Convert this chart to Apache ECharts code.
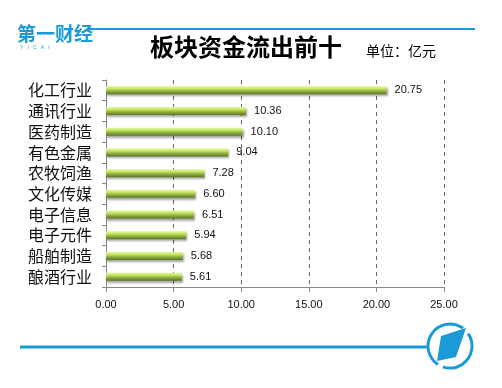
<!DOCTYPE html>
<html><head><meta charset="utf-8">
<script src="https://cdn.jsdelivr.net/npm/echarts@6/dist/echarts.min.js"></script>
<style>html,body{margin:0;padding:0;background:#fff}#c{width:502px;height:388px}</style>
</head><body><div id="c"></div>
<script>
const categories = ['化工行业','通讯行业','医药制造','有色金属','农牧饲渔','文化传媒','电子信息','电子元件','船舶制造','酿酒行业'];
const values = [20.75,10.36,10.10,9.04,7.28,6.60,6.51,5.94,5.68,5.61];
const xTicks = [0,5,10,15,20,25];
const titleText = '板块资金流出前十';
const unitText = '单位：亿元';

const chart = echarts.init(document.getElementById('c'));
const cjk = '"Noto Sans CJK SC", "Noto Sans", sans-serif';
chart.setOption({
  animation: false,
  grid: {left: 106, right: 58, top: 80, bottom: 101, containLabel: false},
  xAxis: {
    type: 'value', min: xTicks[0], max: xTicks[xTicks.length-1], interval: xTicks[1]-xTicks[0],
    axisLine: {show: true, lineStyle: {color: '#888', width: 1}},
    axisTick: {show: true, length: 5, lineStyle: {color: '#888'}},
    axisLabel: {margin: 12, fontSize: 11, color: '#111', fontFamily: 'Arial, "Liberation Sans", sans-serif', formatter: v => v.toFixed(2)},
    splitLine: {show: true, lineStyle: {color: '#666', type: [4,4], width: 1}}
  },
  yAxis: {
    type: 'category', data: categories, inverse: true,
    axisLine: {show: true, lineStyle: {color: '#888'}},
    axisTick: {show: true, length: 4, lineStyle: {color: '#888'}},
    axisLabel: {interval: 0, hideOverlap: false, margin: 14, fontSize: 16, lineHeight: 18, color: '#111', fontFamily: cjk}
  },
  series: [{
    type: 'bar', data: values, barWidth: 8,
    itemStyle: {
      color: new echarts.graphic.LinearGradient(0,0,0,1,[
        {offset:0, color:'#e6f6a0'},
        {offset:0.3, color:'#c6e862'},
        {offset:0.6, color:'#92b242'},
        {offset:1, color:'#5a7628'}
      ]),
      shadowColor: 'rgba(0,0,0,0.35)', shadowBlur: 2, shadowOffsetX: 1, shadowOffsetY: 2
    },
    label: {show: true, position: 'right', distance: 8, fontSize: 11, color: '#111',
      fontFamily: 'Arial, "Liberation Sans", sans-serif', formatter: p => p.value.toFixed(2)}
  }],
  graphic: [
    {type: 'line', shape: {x1: 87, y1: 29, x2: 475, y2: 29}, style: {stroke: '#1a9ad6', lineWidth: 2}},
    {type: 'text', left: 17, top: 24, style: {text: '第一财经', fill: '#1a9ad6', font: 'bold 19px ' + cjk}},
    {type: 'text', left: 20, top: 45, style: {text: 'Y   I   C   A   I', fill: '#1a9ad6', font: '5px sans-serif'}},
    {type: 'text', left: 150, top: 35, style: {text: titleText, fill: '#000', font: 'bold 24px ' + cjk}},
    {type: 'text', left: 366, top: 44, style: {text: unitText, fill: '#000', font: '14px ' + cjk}},
    {type: 'line', shape: {x1: 20, y1: 347, x2: 428, y2: 347}, style: {stroke: '#1a9ad6', lineWidth: 3}},
    {type: 'arc', shape: {cx: 450, cy: 346, r: 22, startAngle: -0.6, endAngle: 1.9}, style: {stroke: '#1a9ad6', lineWidth: 3, fill: null}},
    {type: 'arc', shape: {cx: 450, cy: 346, r: 22, startAngle: 2.15, endAngle: 5.35}, style: {stroke: '#1a9ad6', lineWidth: 3, fill: null}},
    {type: 'polygon', shape: {points: [[441,336],[466,328],[456,357],[437,361]]}, style: {fill: '#1a9ad6'}}
  ]
});
</script></body></html>
